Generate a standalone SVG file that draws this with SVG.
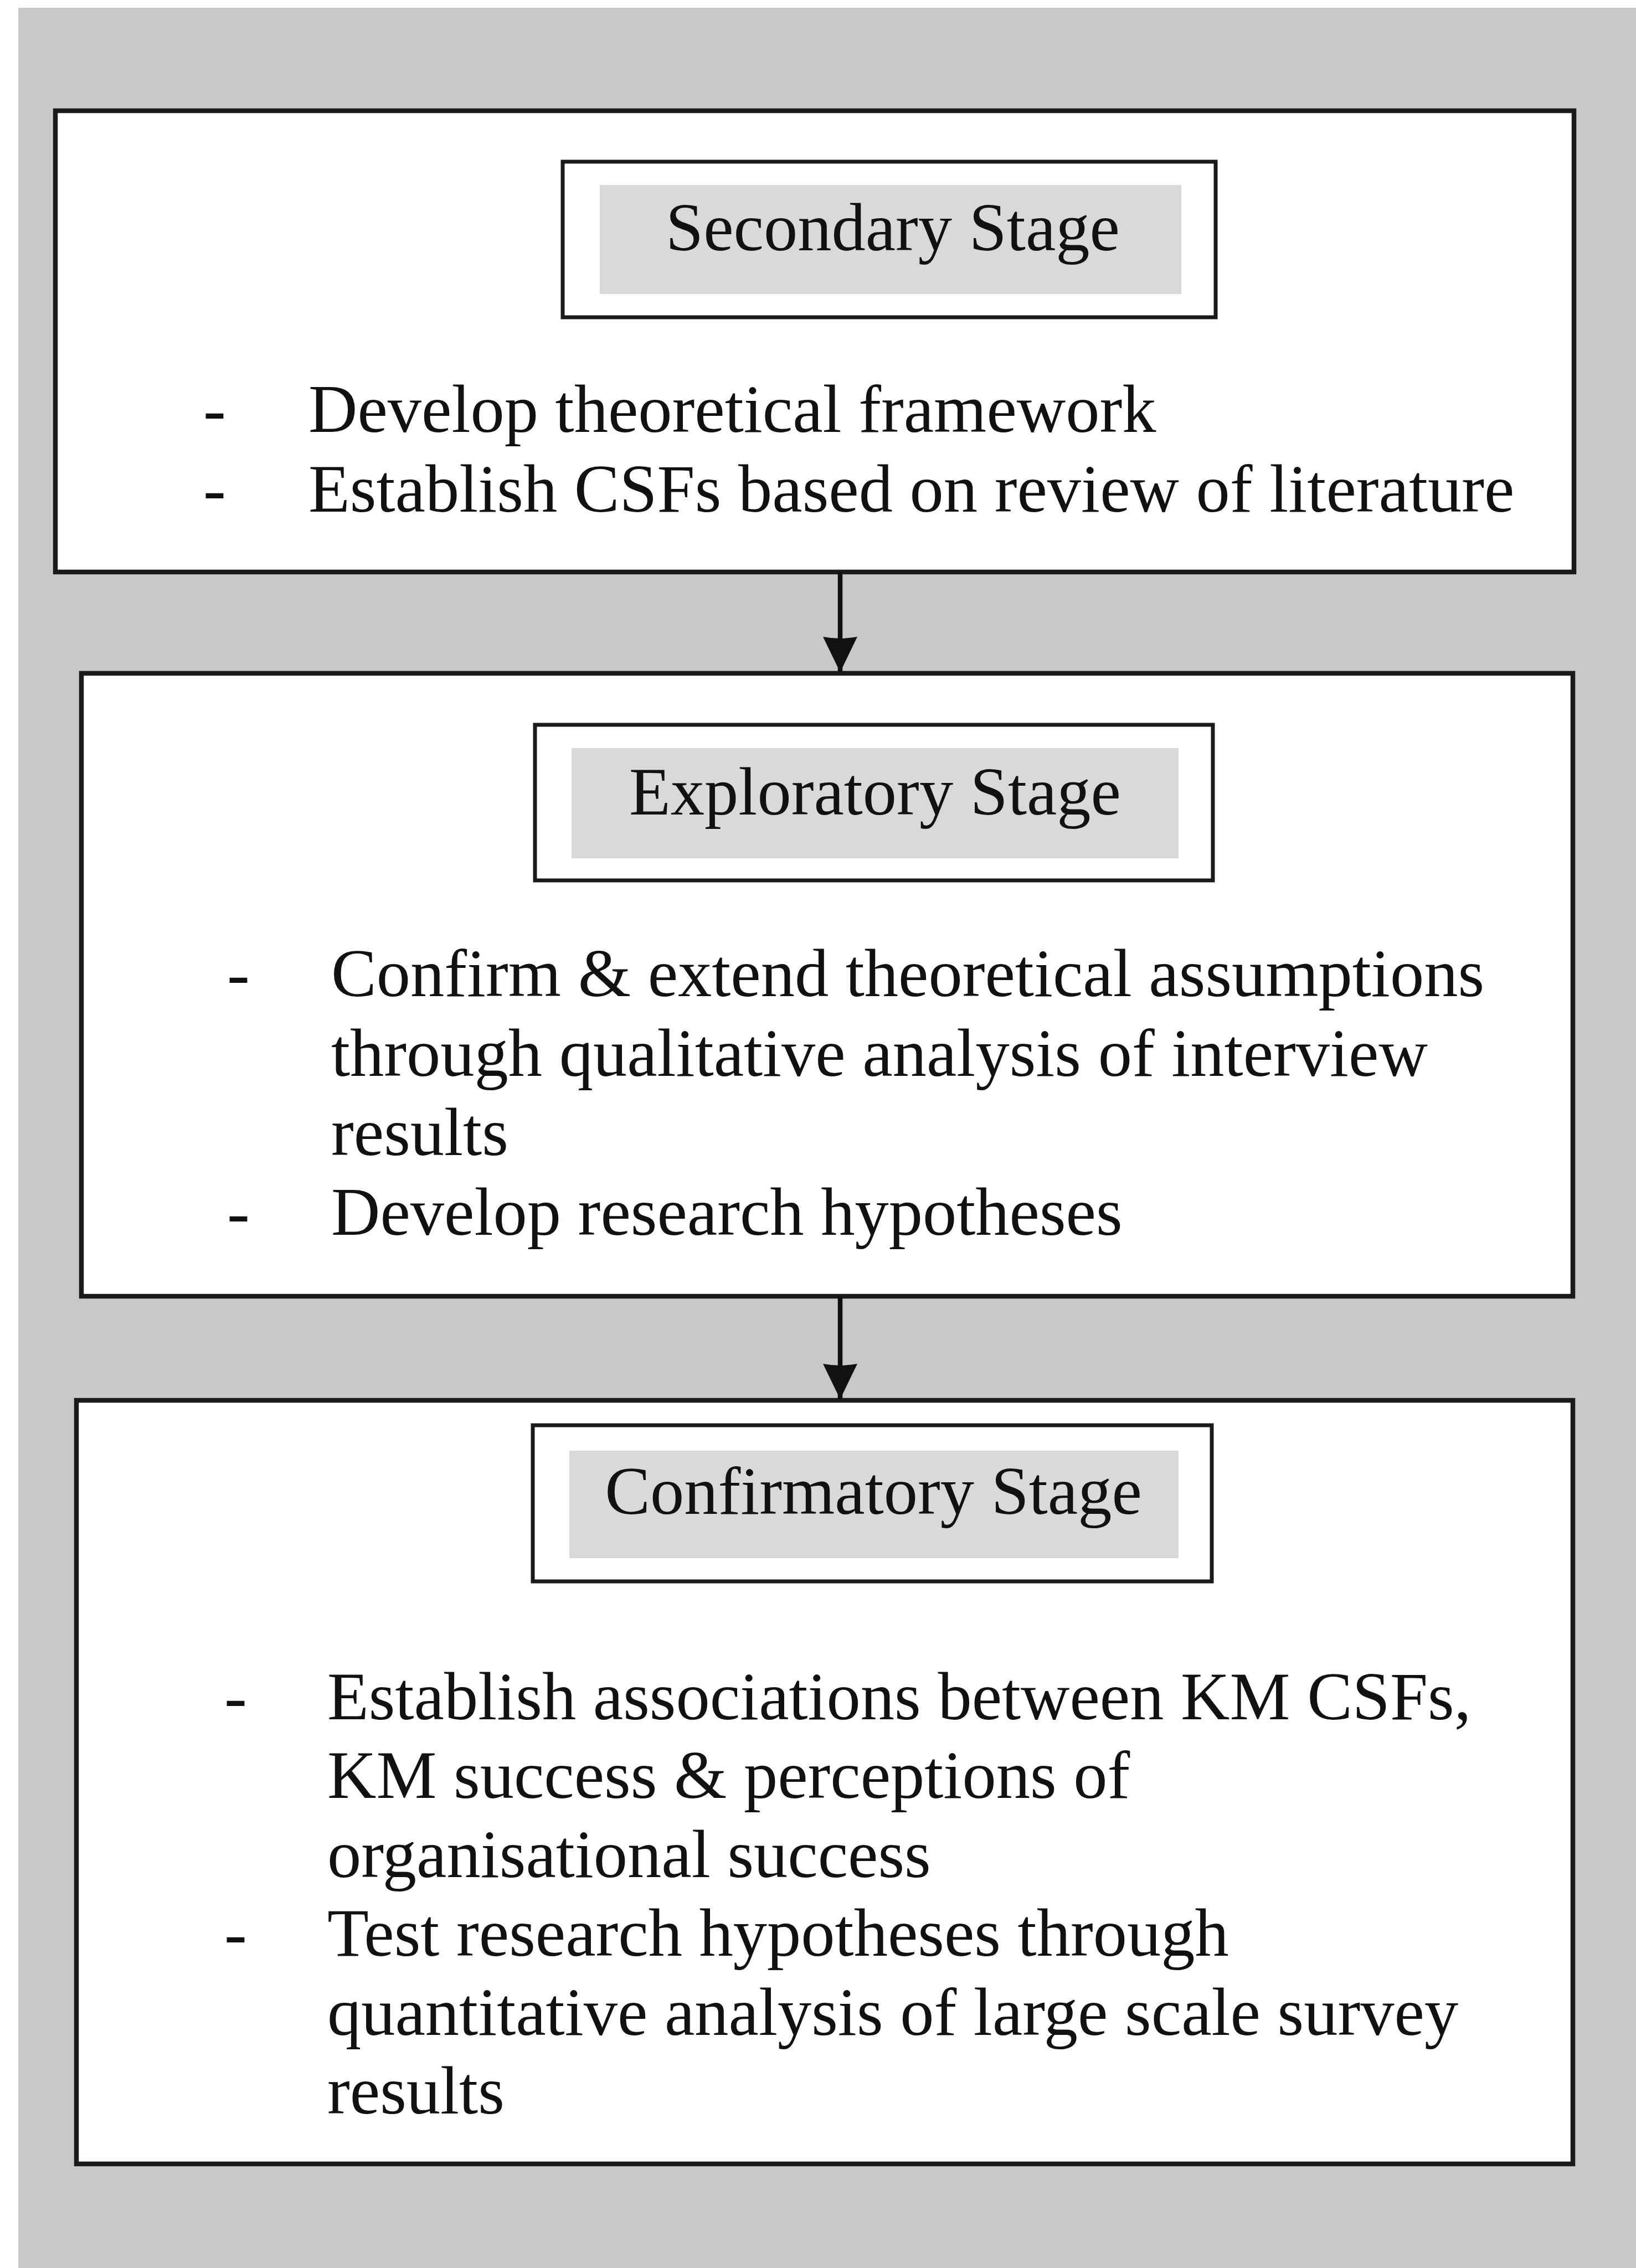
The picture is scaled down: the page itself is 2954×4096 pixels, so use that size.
<svg xmlns="http://www.w3.org/2000/svg" width="2954" height="4096" viewBox="0 0 2954 4096">
  <style>
    .frame { fill: #ffffff; stroke: #1a1a1a; stroke-width: 8.5; }
    .title-frame { fill: #ffffff; stroke: #1a1a1a; stroke-width: 7; }
    .title-fill { fill: #d9d9d9; }
    .title { font-family: "Liberation Serif", "Times New Roman", serif; font-size: 122.5px; fill: #111111; text-anchor: middle; }
    .body { font-family: "Liberation Serif", "Times New Roman", serif; font-size: 122.5px; fill: #111111; }
    .link { stroke: #111111; stroke-width: 8.5; fill: none; }
  </style>
  <defs>
    <!-- head drawn along +x, rotated by orient="auto" to follow the line -->
    <marker id="arrowhead" markerUnits="userSpaceOnUse" markerWidth="66" markerHeight="62" refX="64" refY="31" orient="auto" viewBox="0 0 66 62">
      <path d="M0,0 Q6,31 0,62 L64,31 Z" fill="#111111"/>
    </marker>
  </defs>

  <!-- page backdrop -->
  <rect x="0" y="0" width="2954" height="4096" fill="#ffffff"/>
  <rect x="33" y="14" width="2921" height="4082" fill="#c8c8c8"/>

  <!-- stage 1 -->
  <g id="secondary-stage">
    <rect class="frame" x="100" y="200" width="2742" height="833"/>
    <rect class="title-frame" x="1016" y="292" width="1179" height="281"/>
    <rect class="title-fill" x="1083" y="334" width="1050" height="197"/>
    <text class="title" x="1612" y="452">Secondary Stage</text>
    <text class="body" x="367" y="780">-</text>
    <text class="body" x="557" y="780">Develop theoretical framework</text>
    <text class="body" x="367" y="924">-</text>
    <text class="body" x="557" y="924">Establish CSFs based on review of literature</text>
  </g>

  <!-- stage 2 -->
  <g id="exploratory-stage">
    <rect class="frame" x="147" y="1216" width="2693" height="1125"/>
    <rect class="title-frame" x="966" y="1309" width="1224" height="281"/>
    <rect class="title-fill" x="1032" y="1351" width="1096" height="199"/>
    <text class="title" x="1580" y="1471">Exploratory Stage</text>
    <text class="body" x="410" y="1799">-</text>
    <text class="body" x="598" y="1799">Confirm &amp; extend theoretical assumptions</text>
    <text class="body" x="598" y="1943">through qualitative analysis of interview</text>
    <text class="body" x="598" y="2086">results</text>
    <text class="body" x="410" y="2230">-</text>
    <text class="body" x="598" y="2230">Develop research hypotheses</text>
  </g>

  <!-- stage 3 -->
  <g id="confirmatory-stage">
    <rect class="frame" x="138" y="2529" width="2702" height="1379"/>
    <rect class="title-frame" x="962" y="2574" width="1226" height="282"/>
    <rect class="title-fill" x="1028" y="2620" width="1100" height="194"/>
    <text class="title" x="1577" y="2734">Confirmatory Stage</text>
    <text class="body" x="405" y="3105">-</text>
    <text class="body" x="591" y="3105">Establish associations between KM CSFs,</text>
    <text class="body" x="591" y="3247">KM success &amp; perceptions of</text>
    <text class="body" x="591" y="3390">organisational success</text>
    <text class="body" x="405" y="3532">-</text>
    <text class="body" x="591" y="3532">Test research hypotheses through</text>
    <text class="body" x="591" y="3675">quantitative analysis of large scale survey</text>
    <text class="body" x="591" y="3817">results</text>
  </g>

  <!-- flow between stages -->
  <g id="connectors">
    <line class="link" x1="1517" y1="1033" x2="1517" y2="1214" marker-end="url(#arrowhead)"/>
    <line class="link" x1="1517" y1="2341" x2="1517" y2="2527" marker-end="url(#arrowhead)"/>
  </g>
</svg>
